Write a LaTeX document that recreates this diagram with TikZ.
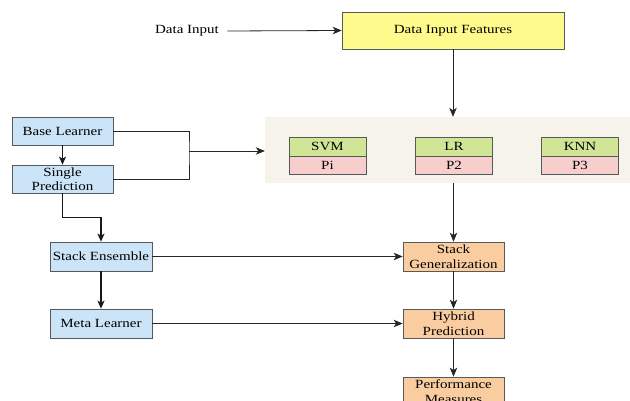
\documentclass[tikz,border=0pt]{standalone}
\usepackage{fontspec}
\setmainfont[FakeStretch=1.2]{Liberation Serif}
\usetikzlibrary{arrows.meta}
\definecolor{cyellow}{RGB}{255,250,140}
\definecolor{cblue}{RGB}{204,228,248}
\definecolor{corange}{RGB}{250,205,160}
\definecolor{cgreen}{RGB}{208,230,150}
\definecolor{cpink}{RGB}{248,206,204}
\definecolor{cpanel}{RGB}{246,243,234}
\definecolor{cborder}{RGB}{85,90,95}
\begin{document}
\begin{tikzpicture}[x=1pt,y=-1pt,
  txt/.style={font=\fontsize{12.5}{14.5}\selectfont, text=black},
  box/.style={txt, draw=cborder, line width=0.7pt, minimum width=101pt, minimum height=29pt, inner sep=0pt, align=center},
  bluebox/.style={box, fill=cblue},
  orbox/.style={box, fill=corange},
  topcell/.style={box, fill=cgreen, minimum width=77pt, minimum height=19pt},
  botcell/.style={box, fill=cpink, minimum width=77pt, minimum height=18pt},
  conn/.style={draw=black!85, line width=0.8pt},
  arr/.style={conn, -{Stealth[length=9pt,width=7.5pt,inset=2.5pt]}},
  tarr/.style={draw=black!90, line width=1.3pt, -{Stealth[length=8pt,width=7pt,inset=2pt]}}
]
\useasboundingbox (0,0) rectangle (630,401);

% top
\node[txt] (datain) at (187,31) {Data Input};
\node[box, fill=cyellow, minimum width=222pt, minimum height=37pt] (dif) at (453,30.5) {Data Input Features};

% panel
\node[fill=cpanel, minimum width=365pt, minimum height=66pt, inner sep=0pt] (panel) at (447.5,150) {};
\node[topcell] (svm) at (327.5,146.5) {SVM};
\node[botcell] (p1) at (327.5,165) {Pi};
\node[topcell] (lr) at (454,146.5) {LR};
\node[botcell] (p2) at (454,165) {P2};
\node[topcell] (knn) at (580,146.5) {KNN};
\node[botcell] (p3) at (580,165) {P3};

% left column
\node[bluebox, minimum height=28pt] (base) at (62.5,131) {Base Learner};
\node[bluebox, minimum height=28pt] (single) at (62.5,179) {Single\\Prediction};
\node[bluebox, minimum width=102pt] (ens) at (101,256.5) {Stack Ensemble};
\node[bluebox, minimum width=102pt] (meta) at (101,323.5) {Meta Learner};

% right column
\node[orbox] (sg) at (453.5,256.5) {Stack\\Generalization};
\node[orbox] (hp) at (453.5,323.5) {Hybrid\\Prediction};
\node[orbox] (pm) at (453.5,391.5) {Performance\\Measures};

% connectors
\draw[arr] ([xshift=5pt]datain.east) -- (dif.west);
\draw[arr] (dif.south) -- (dif.south |- panel.north);
\draw[arr] (panel.south -| sg.north) -- (sg.north);

\coordinate (j) at (189,151);
\draw[conn] (base.east) -| (j) |- (single.east);
\draw[arr] (j) -- (j -| panel.west);

\draw[tarr] (base) -- (single);
\draw[tarr] (single.south) -- ++(0,24) -| (ens.north);
\draw[tarr] (ens) -- (meta);

\draw[arr] (ens) -- (sg);
\draw[arr] (meta) -- (hp);
\draw[arr] (sg) -- (hp);
\draw[arr] (hp) -- (pm);
\end{tikzpicture}
\end{document}
